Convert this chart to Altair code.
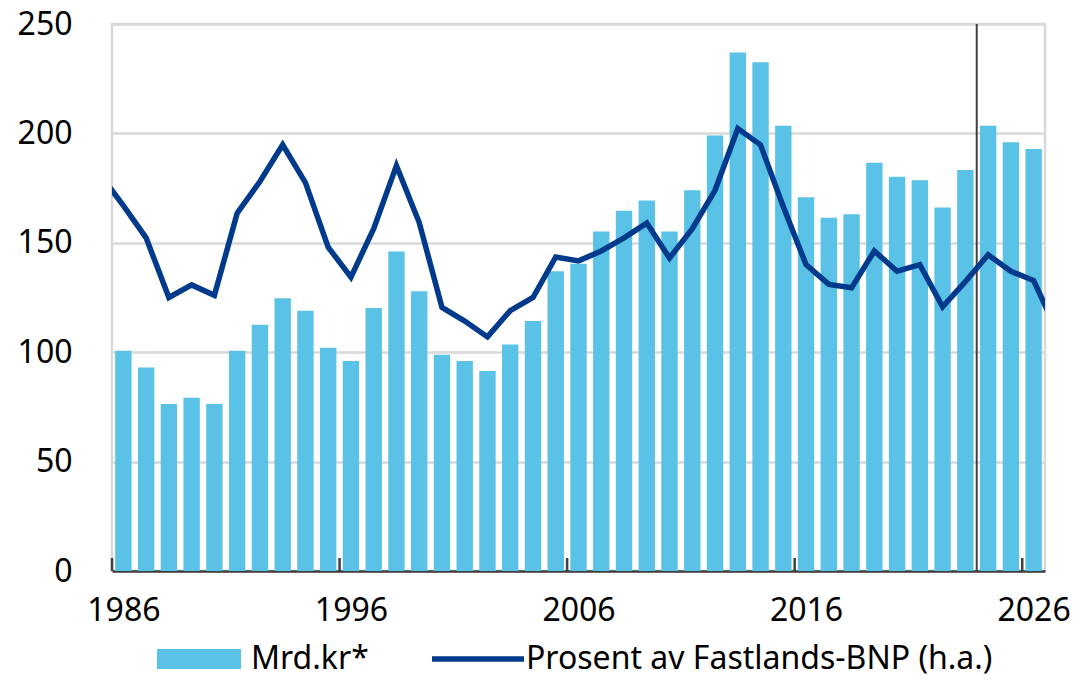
import altair as alt
import pandas as pd

# ---- data ----
years = list(range(1986, 2027))
mrd_kr = [100.7, 93.0, 76.3, 79.2, 76.3, 100.7, 112.6, 124.7, 118.9, 102.0,
          96.0, 120.2, 146.0, 127.8, 98.8, 96.0, 91.4, 103.5, 114.3, 137.0,
          140.4, 155.2, 164.6, 169.3, 155.2, 174.0, 199.0, 237.0, 232.5, 203.5,
          170.8, 161.5, 163.0, 186.6, 180.2, 178.6, 166.1, 183.3, 203.5, 196.0,
          192.9]

line_years = list(range(1985, 2028))
pct_bnp = [7.24, 6.68, 6.09, 5.00, 5.23, 5.04, 6.54, 7.12, 7.79, 7.10,
           5.92, 5.37, 6.26, 7.41, 6.37, 4.82, 4.57, 4.28, 4.76, 5.00,
           5.74, 5.67, 5.85, 6.09, 6.36, 5.72, 6.26, 6.96, 8.09, 7.79,
           6.66, 5.60, 5.24, 5.18, 5.85, 5.48, 5.60, 4.83, 5.29, 5.78,
           5.48, 5.31, 4.41]

tick_years = [1986, 1996, 2006, 2016, 2026]
y_ticks = [0, 50, 100, 150, 200, 250]
last_actual_year = [2023]
series = ["Mrd.kr*", "Prosent av Fastlands-BNP (h.a.)"]
colors = ["#5BC2E7", "#003A8C"]
symbols = ["M-1,-1H7.4V1H-1Z", "M-1,-0.27H8.2V0.27H-1Z"]

W, H = 933, 547
FONT = "Noto Sans"
FS = 32

bar_df = pd.DataFrame({"year": years, "value": mrd_kr})
line_df = pd.DataFrame({"year": line_years, "pct": pct_bnp})
tick_df = pd.DataFrame({"year": tick_years})
split_df = pd.DataFrame({"year": last_actual_year})
legend_df = pd.DataFrame({"serie": series})

xscale = alt.Scale(domain=[years[0] - 0.5, years[-1] + 0.5], nice=False, zero=False)
xaxis = alt.Axis(values=tick_years, format="d", title=None, ticks=False,
                 grid=False, labelPadding=24, domainColor="#404040",
                 domainWidth=2.5, labelFontSize=FS, labelColor="black",
                 labelFlush=False, labelOverlap=False, labelFont=FONT)

bars = alt.Chart(bar_df).transform_calculate(
    x0="datum.year - 0.36", x1="datum.year + 0.36"
).mark_bar(color=colors[0]).encode(
    x=alt.X("x0:Q", scale=xscale, axis=xaxis),
    x2="x1:Q",
    y=alt.Y("value:Q", scale=alt.Scale(domain=[0, 250], nice=False),
            axis=alt.Axis(values=y_ticks, title=None, ticks=False, domain=False,
                          labelPadding=40, gridColor="#D9D9D9", gridWidth=2.5,
                          labelFontSize=FS, labelColor="black", labelFont=FONT)),
    y2=alt.datum(0),
)

split = alt.Chart(split_df).transform_calculate(
    xs="datum.year + 0.5"
).mark_rule(color="#404040", strokeWidth=2).encode(
    x=alt.X("xs:Q", scale=xscale, axis=xaxis)
)

line = alt.Chart(line_df).mark_line(color=colors[1], strokeWidth=5.5, clip=True).encode(
    x=alt.X("year:Q", scale=xscale, axis=xaxis),
    y=alt.Y("pct:Q", scale=alt.Scale(domain=[0, 10], nice=False), axis=None),
)

ticks = alt.Chart(tick_df).transform_calculate(
    xt="datum.year - 0.5"
).mark_rule(color="#404040", strokeWidth=2.5).encode(
    x=alt.X("xt:Q", scale=xscale, axis=xaxis),
    y=alt.value(H),
    y2=alt.value(H - 13),
)

leg_props = dict(orient="none", legendX=39, legendY=619, direction="horizontal",
                 title=None, labelFontSize=FS, labelColor="black", labelFont=FONT,
                 symbolSize=400, symbolOpacity=1, symbolStrokeWidth=0,
                 labelOffset=68, columnPadding=57, padding=0, labelLimit=1000)

leg = alt.Chart(legend_df).mark_point(filled=True, opacity=0, size=400).encode(
    color=alt.Color("serie:N", scale=alt.Scale(domain=series, range=colors),
                    legend=alt.Legend(**leg_props)),
    shape=alt.Shape("serie:N", scale=alt.Scale(domain=series, range=symbols),
                    legend=alt.Legend(**leg_props)),
)

chart = alt.layer(bars, split, line, ticks, leg).resolve_scale(
    y="independent"
).properties(
    width=W, height=H,
    padding={"left": 104, "top": 16, "right": 26, "bottom": 108},
    autosize=alt.AutoSizeParams(type="none"),
).configure(font=FONT).configure_view(stroke="#D9D9D9", strokeWidth=2.5)

chart.save("out.html", embed_options={"renderer": "svg", "actions": False})
